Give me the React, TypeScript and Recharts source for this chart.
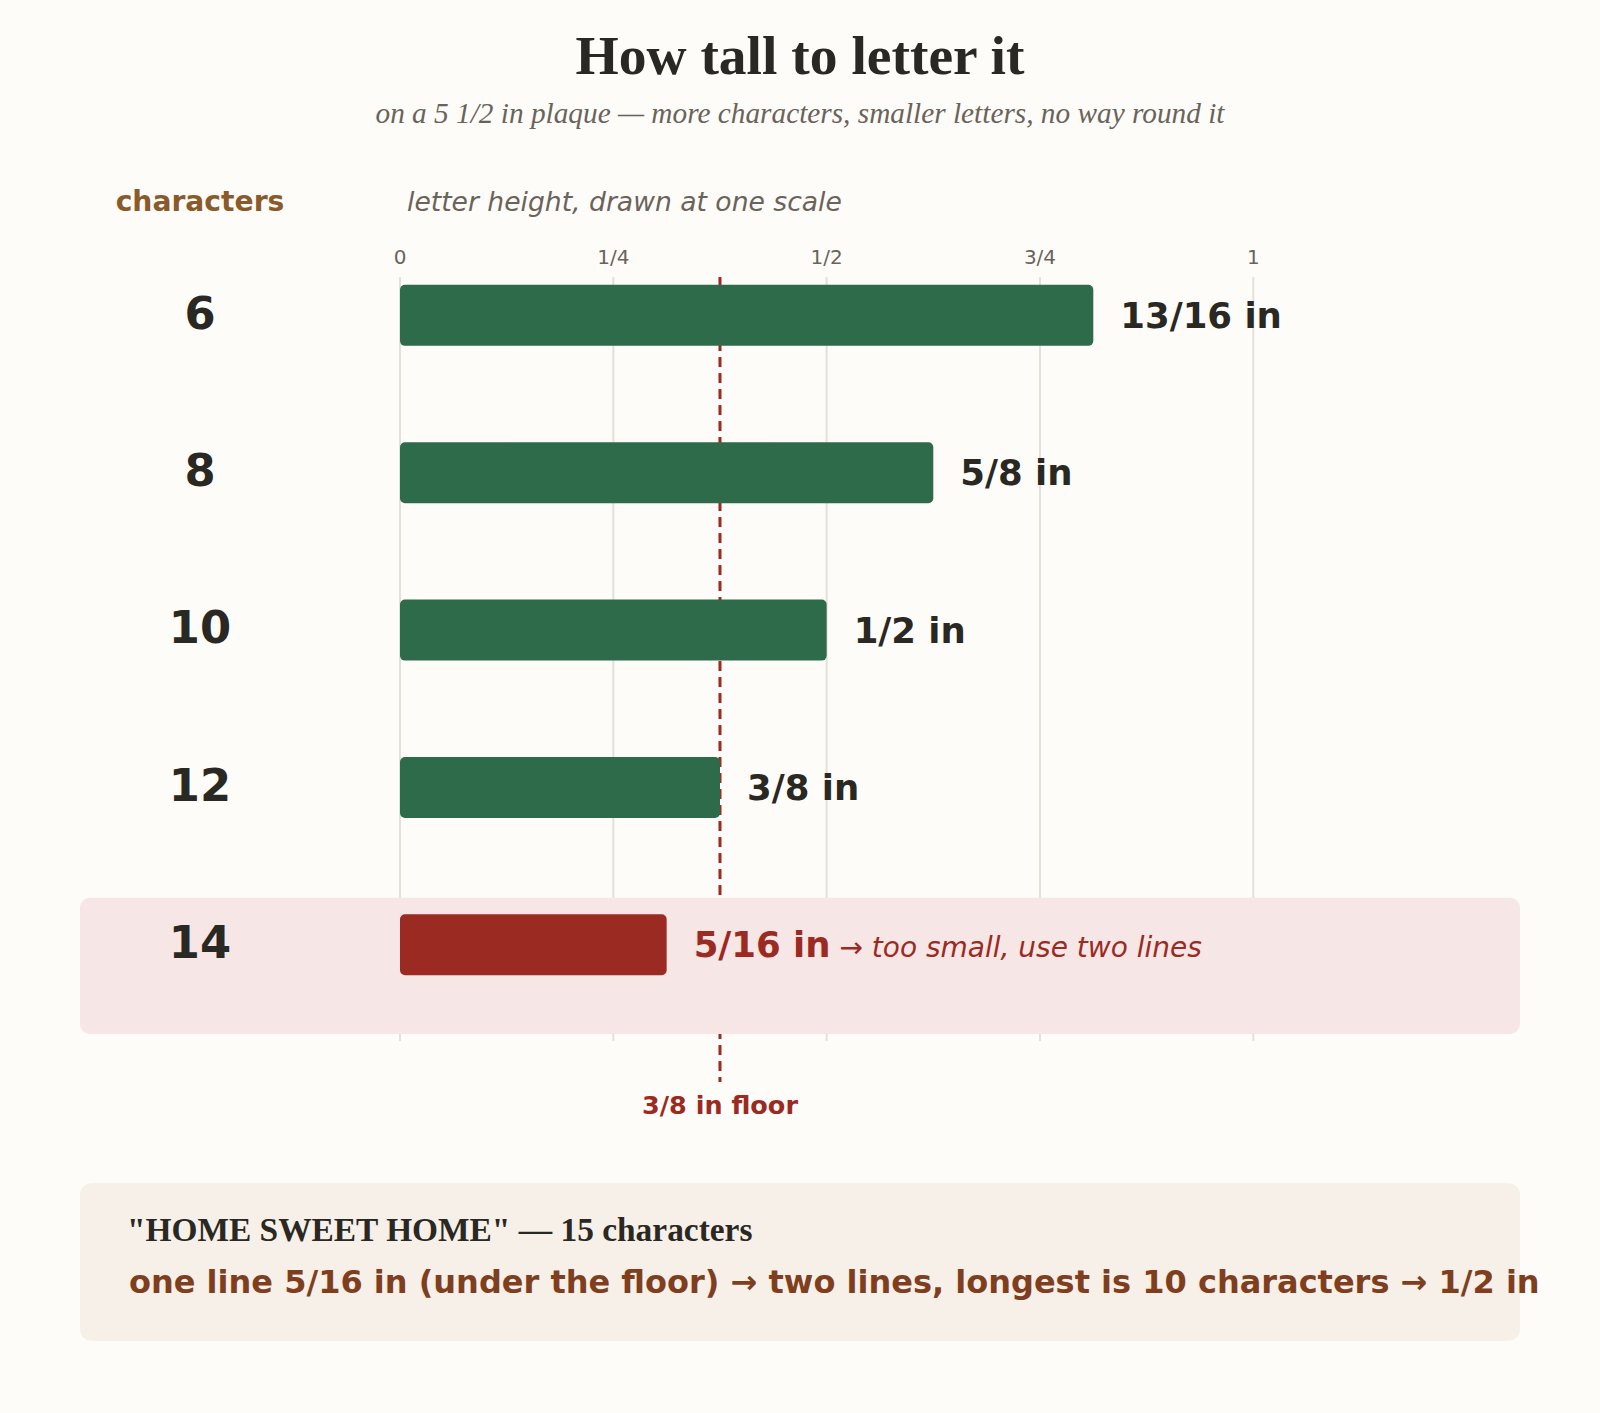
import { BarChart, Bar, XAxis, YAxis, CartesianGrid, Cell, LabelList, ReferenceLine, ReferenceArea } from 'recharts';

// character counts (rows) and the letter height each one allows, in inches
const categories = [6, 8, 10, 12, 14];
const heightsIn = [13 / 16, 5 / 8, 1 / 2, 3 / 8, 5 / 16];
const heightLabels = ['13/16 in', '5/8 in', '1/2 in', '3/8 in', '5/16 in'];
const tickValues = [0, 0.25, 0.5, 0.75, 1];
const tickLabels = ['0', '1/4', '1/2', '3/4', '1'];
const floorIn = 3 / 8;
const floorLabel = '3/8 in floor';
const tooSmallNote = '→ too small, use two lines';

const SANS = '"DejaVu Sans", sans-serif';
const SERIF = '"Liberation Serif", serif';
const DARK = '#2a2822';
const MUTED = '#6b635b';
const GREEN = '#2e6b4a';
const RED = '#9b2a22';

const data = categories.map((c, i) => ({
  chars: c,
  height: heightsIn[i],
  label: heightLabels[i],
  low: heightsIn[i] < floorIn,
}));

const RowTick = ({ y, payload }: { y?: number; payload?: { value: number } }) => (
  <text x={200} y={(y ?? 0) + 13} textAnchor="middle" fontFamily={SANS} fontWeight="bold" fontSize={44.8} fill={DARK}>
    {payload?.value}
  </text>
);

const ValueLabel = (props: any) => {
  const { x, y, width, height, index } = props;
  const row = data[index];
  const tx = Number(x) + Number(width) + 27;
  const ty = Number(y) + Number(height) / 2 + 12.5;
  if (row.low) {
    return (
      <text x={tx} y={ty} fontFamily={SANS} fill={RED}>
        <tspan fontWeight="bold" fontSize={35.5}>{row.label}</tspan>
        <tspan fontStyle="italic" fontSize={28}>{' ' + tooSmallNote}</tspan>
      </text>
    );
  }
  return (
    <text x={tx} y={ty} fontFamily={SANS} fontWeight="bold" fontSize={35.5} fill={DARK}>
      {row.label}
    </text>
  );
};

export default function App() {
  return (
    <div style={{ position: 'absolute', left: 0, top: 0, width: 1600, height: 1413, background: '#fdfcf8', overflow: 'hidden' }}>
      <svg width={1600} height={1413} style={{ position: 'absolute', left: 0, top: 0 }}>
        <text x={800} y={74} textAnchor="middle" fontFamily={SERIF} fontWeight="bold" fontSize={55.5} fill={DARK}>
          How tall to letter it
        </text>
        <text x={800} y={122.5} textAnchor="middle" fontFamily={SERIF} fontStyle="italic" fontSize={29.3} fill={MUTED}>
          on a 5 1/2 in plaque — more characters, smaller letters, no way round it
        </text>
        <text x={200} y={211} textAnchor="middle" fontFamily={SANS} fontWeight="bold" fontSize={28.2} fill="#8a5a2b">
          characters
        </text>
        <text x={407} y={211} fontFamily={SANS} fontStyle="italic" fontSize={26.6} fill={MUTED}>
          letter height, drawn at one scale
        </text>
        <rect x={80} y={1183} width={1440} height={158} rx={12} fill="#f6f0e8" />
        <text x={127} y={1241} fontFamily={SERIF} fontWeight="bold" fontSize={33.4} fill={DARK}>
          "HOME SWEET HOME" — 15 characters
        </text>
        <text x={129} y={1293} fontFamily={SANS} fontWeight="bold" fontSize={32} fill="#7f3f1f">
          one line 5/16 in (under the floor) → two lines, longest is 10 characters → 1/2 in
        </text>
      </svg>
      <div style={{ position: 'absolute', left: 0, top: 0 }}>
        <BarChart
          width={1600}
          height={1413}
          data={data}
          layout="vertical"
          margin={{ top: 247, right: 346.7, bottom: 372, left: 80 }}
          style={{ overflow: 'visible' }}
        >
          <CartesianGrid horizontal={false} stroke="#e5e0d8" strokeWidth={2} />
          <XAxis
            type="number"
            orientation="top"
            domain={[0, 1]}
            ticks={tickValues}
            interval={0}
            tickFormatter={(v: number) => tickLabels[tickValues.indexOf(v)]}
            height={30}
            axisLine={false}
            tickLine={false}
            tickSize={0}
            tickMargin={13}
            tick={{ fill: MUTED, fontSize: 20, fontFamily: SANS }}
          />
          <YAxis
            type="number"
            dataKey="chars"
            domain={[5.51, 15.22]}
            allowDataOverflow
            ticks={categories}
            interval={0}
            width={320}
            axisLine={false}
            tickLine={false}
            tick={<RowTick />}
          />
          <ReferenceLine
            segment={[
              { x: floorIn, y: 5.51 },
              { x: floorIn, y: 15.74 },
            ]}
            ifOverflow="visible"
            stroke={RED}
            strokeWidth={3}
            strokeDasharray="10 6"
            zIndex={-90}
            label={{ value: floorLabel, position: 'bottom', offset: 14, fill: RED, fontSize: 25.5, fontWeight: 'bold', fontFamily: SANS }}
          />
          <ReferenceArea
            x1={-0.375}
            x2={1.3125}
            y1={13.4}
            y2={15.13}
            ifOverflow="visible"
            fill="#f6e6e5"
            fillOpacity={1}
            stroke="none"
            radius={10}
            zIndex={-80}
          />
          <Bar dataKey="height" barSize={61} radius={5} isAnimationActive={false}>
            {data.map((d) => (
              <Cell key={d.chars} fill={d.low ? RED : GREEN} />
            ))}
            <LabelList dataKey="label" content={ValueLabel} />
          </Bar>
        </BarChart>
      </div>
    </div>
  );
}
